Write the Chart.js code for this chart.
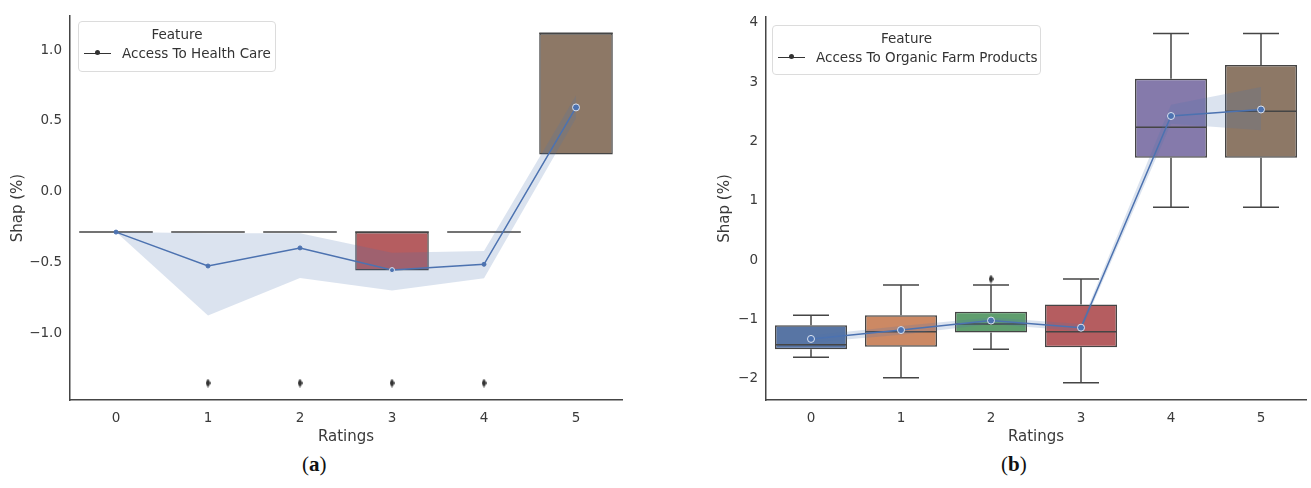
<!DOCTYPE html>
<html>
<head>
<meta charset="utf-8">
<script src="https://cdn.jsdelivr.net/npm/chart.js@4.4.1/dist/chart.umd.min.js"></script>
<style>
  body { margin: 0; background: #fff; width: 1311px; height: 488px; position: relative; overflow: hidden; font-family: "DejaVu Sans", sans-serif; }
  canvas { position: absolute; top: 0; }
  #chartA { left: 0; }
  #chartB { left: 660px; }
  .legend { position: absolute; border: 1px solid #dcdcdc; border-radius: 4px; background: rgba(255,255,255,0.85); font-size: 13.5px; color: #333; box-sizing: border-box; }
  .legend .ttl { text-align: center; margin-top: 4px; }
  .legend .row { display: flex; align-items: center; margin-top: 3px; margin-left: 5px; }
  .legend .mk { position: relative; width: 27px; height: 0; border-top: 1.5px solid #333; margin-right: 11px; }
  .legend .mk::after { content: ""; position: absolute; left: 11px; top: -3.5px; width: 5px; height: 5px; border-radius: 50%; background: #333; }
  .cap { position: absolute; top: 452px; font-family: "Liberation Serif", "DejaVu Serif", serif; font-size: 21px; color: #111; }
</style>
</head>
<body>
<canvas id="chartA" width="640" height="450"></canvas>
<canvas id="chartB" width="651" height="450"></canvas>

<div class="legend" style="left:78px; top:21px; width:198px; height:51px;">
  <div class="ttl">Feature</div>
  <div class="row"><span class="mk"></span>Access To Health Care</div>
</div>
<div class="legend" style="left:772px; top:25px; width:269px; height:50px;">
  <div class="ttl">Feature</div>
  <div class="row"><span class="mk"></span>Access To Organic Farm Products</div>
</div>
<div class="cap" style="left:302px;">(<b>a</b>)</div>
<div class="cap" style="left:1001px;">(<b>b</b>)</div>

<script>
const ratings = ['0', '1', '2', '3', '4', '5'];
const boxColors = ['#5875A4', '#CC8964', '#5F9E6E', '#B55D60', '#857AAB', '#8D7866'];

// (a) Access To Health Care
const q1A = [-0.286, -0.286, -0.286, -0.557, -0.286, 0.263];
const q3A = [-0.286, -0.286, -0.286, -0.286, -0.286, 1.12];
const medA = [-0.286, -0.286, -0.286, -0.286, -0.286, 1.12];
const lowA = [-0.286, -0.286, -0.286, -0.557, -0.286, 0.263];
const highA = [-0.286, -0.286, -0.286, -0.286, -0.286, 1.12];
const meanA = [-0.286, -0.526, -0.398, -0.555, -0.514, 0.596];
const ciLowA = [-0.286, -0.877, -0.61, -0.70, -0.613, 0.52];
const ciHighA = [-0.286, -0.295, -0.295, -0.433, -0.42, 0.68];
const outA = [null, -1.354, -1.354, -1.354, -1.354, null];
const yTicksA = [-1.0, -0.5, 0.0, 0.5, 1.0];

// (b) Access To Organic Farm Products
const q1B = [-1.506, -1.46, -1.22, -1.47, 1.725, 1.725];
const q3B = [-1.10, -0.93, -0.87, -0.75, 3.06, 3.29];
const medB = [-1.43, -1.21, -1.08, -1.21, 2.24, 2.51];
const lowB = [-1.64, -1.985, -1.506, -2.07, 0.89, 0.89];
const highB = [-0.93, -0.42, -0.42, -0.32, 3.82, 3.82];
const meanB = [-1.33, -1.18, -1.02, -1.14, 2.43, 2.54];
const ciLowB = [-1.39, -1.26, -1.08, -1.20, 2.30, 2.19];
const ciHighB = [-1.27, -1.11, -0.97, -1.08, 2.62, 2.92];
const outB = [null, null, -0.32, null, null, null];
const yTicksB = [-2, -1, 0, 1, 2, 3, 4];

const EDGE = '#454545';
const LINE = '#4C72B0';
const BAND = 'rgba(76,114,176,0.2)';
const TXT = '#3a3a3a';

// thin diamond, like seaborn's flier marker
const diamond = document.createElement('canvas');
diamond.width = 5; diamond.height = 9;
(function () {
    const c = diamond.getContext('2d');
    c.fillStyle = '#333';
    c.beginPath();
    c.moveTo(2.5, 0); c.lineTo(5, 4.5); c.lineTo(2.5, 9); c.lineTo(0, 4.5);
    c.closePath(); c.fill();
})();

// medians, whiskers and caps on top of the floating bars
const boxWhiskers = {
    id: 'boxWhiskers',
    afterDatasetDraw(chart, args) {
        if (args.index !== 0) return;
        const st = chart.data.datasets[0].stats;
        const y = chart.scales.y;
        const ctx = chart.ctx;
        ctx.save();
        ctx.strokeStyle = EDGE;
        ctx.lineWidth = 1.5;
        ctx.lineCap = 'butt';
        args.meta.data.forEach((bar, i) => {
            const half = bar.width / 2;
            const cap = half / 2;
            const yMed = y.getPixelForValue(st.med[i]);
            const yLo = y.getPixelForValue(st.low[i]);
            const yHi = y.getPixelForValue(st.high[i]);
            const yQ1 = y.getPixelForValue(st.q1[i]);
            const yQ3 = y.getPixelForValue(st.q3[i]);
            ctx.beginPath();
            ctx.moveTo(bar.x - half, yMed); ctx.lineTo(bar.x + half, yMed);
            if (st.high[i] > st.q3[i]) {
                ctx.moveTo(bar.x, yQ3); ctx.lineTo(bar.x, yHi);
                ctx.moveTo(bar.x - cap, yHi); ctx.lineTo(bar.x + cap, yHi);
            }
            if (st.low[i] < st.q1[i]) {
                ctx.moveTo(bar.x, yQ1); ctx.lineTo(bar.x, yLo);
                ctx.moveTo(bar.x - cap, yLo); ctx.lineTo(bar.x + cap, yLo);
            }
            ctx.stroke();
        });
        ctx.restore();
    }
};

function fmt(v, digits) {
    const s = Math.abs(v).toFixed(digits);
    return v < 0 ? '\u2212' + s : s;
}

function makeChart(id, d) {
    const boxes = d.q1.map((v, i) => [v, d.q3[i]]);
    return new Chart(document.getElementById(id), {
        type: 'bar',
        data: {
            labels: ratings,
            datasets: [
                {
                    data: boxes,
                    stats: { q1: d.q1, q3: d.q3, med: d.med, low: d.low, high: d.high },
                    backgroundColor: boxColors,
                    borderColor: EDGE,
                    borderWidth: 1.5,
                    borderSkipped: false,
                    categoryPercentage: 0.8,
                    barPercentage: 1,
                    order: 4
                },
                {
                    type: 'line', data: d.ciHigh, borderWidth: 0, pointRadius: 0,
                    fill: '+1', backgroundColor: BAND, order: 3
                },
                {
                    type: 'line', data: d.ciLow, borderWidth: 0, pointRadius: 0,
                    fill: false, order: 3
                },
                {
                    type: 'line', data: d.mean, borderColor: LINE, borderWidth: 1.5,
                    pointRadius: d.pointRadius, pointBackgroundColor: LINE,
                    pointBorderColor: d.pointBorder, pointBorderWidth: 1,
                    fill: false, order: 2
                },
                {
                    type: 'line', data: d.out, showLine: false,
                    pointStyle: diamond, pointRadius: 4, order: 1
                }
            ]
        },
        options: {
            responsive: false,
            animation: false,
            layout: { padding: { top: d.padTop, right: d.padRight, left: 0, bottom: 0 } },
            plugins: { legend: { display: false }, tooltip: { enabled: false } },
            scales: {
                x: {
                    grid: { display: false, drawTicks: false },
                    border: { color: EDGE, width: 1.5 },
                    ticks: { color: TXT, font: { family: 'DejaVu Sans', size: 13.5 }, padding: 10 },
                    title: { display: true, text: 'Ratings', color: TXT,
                             font: { family: 'DejaVu Sans', size: 15 }, padding: { top: 0, bottom: 4 } },
                    afterFit(axis) { axis.height = 50; }
                },
                y: {
                    min: d.yMin, max: d.yMax,
                    grid: { display: false, drawTicks: false },
                    border: { color: EDGE, width: 1.5 },
                    ticks: { color: TXT, font: { family: 'DejaVu Sans', size: 13.5 }, padding: 8,
                             callback: v => fmt(v, d.digits) },
                    afterBuildTicks(axis) { axis.ticks = d.yTicks.map(v => ({ value: v })); },
                    title: { display: true, text: 'Shap (%)', color: TXT,
                             font: { family: 'DejaVu Sans', size: 15 }, padding: { top: d.titlePad, bottom: 0 } },
                    afterFit(axis) { axis.width = d.yWidth; }
                }
            }
        },
        plugins: [boxWhiskers]
    });
}

makeChart('chartA', {
    q1: q1A, q3: q3A, med: medA, low: lowA, high: highA,
    mean: meanA, ciLow: ciLowA, ciHigh: ciHighA, out: outA,
    yTicks: yTicksA, digits: 1, yMin: -1.474, yMax: 1.242,
    pointRadius: [2, 2, 2, 2.5, 2, 3.5],
    pointBorder: [LINE, LINE, LINE, '#dde4f0', LINE, '#dde4f0'],
    padTop: 13, padRight: 18, yWidth: 70, titlePad: 9
});

makeChart('chartB', {
    q1: q1B, q3: q3B, med: medB, low: lowB, high: highB,
    mean: meanB, ciLow: ciLowB, ciHigh: ciHighB, out: outB,
    yTicks: yTicksB, digits: 0, yMin: -2.36, yMax: 4.10,
    pointRadius: 3.5, pointBorder: '#dde4f0',
    padTop: 17, padRight: 0, yWidth: 106, titlePad: 56
});
</script>
</body>
</html>
